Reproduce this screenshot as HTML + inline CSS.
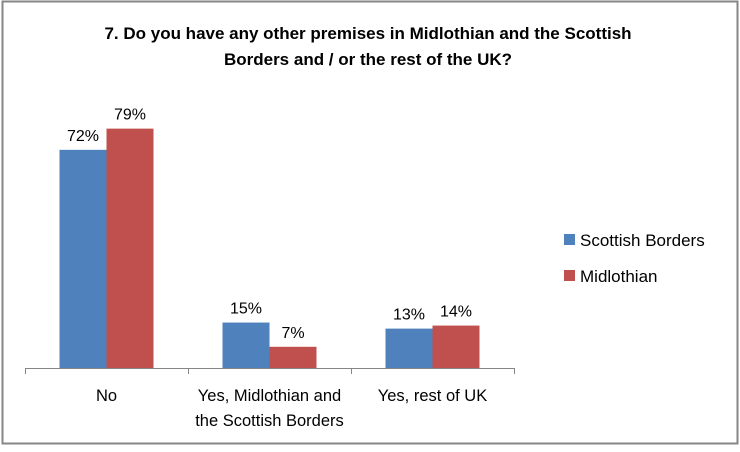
<!DOCTYPE html>
<html><head><meta charset="utf-8"><style>
body{margin:0;background:#fff;}
svg text{font-family:"Liberation Sans",sans-serif;}
</style></head><body>
<svg width="740" height="447" xmlns="http://www.w3.org/2000/svg">
<rect x="2.5" y="1.5" width="735" height="442" fill="#fff" stroke="#868686" stroke-width="2"/>
<text x="368" y="39" text-anchor="middle" font-size="17" font-weight="bold" fill="#000">7.  Do you have any other premises in Midlothian and the Scottish</text>
<text x="368" y="65" text-anchor="middle" font-size="17" font-weight="bold" fill="#000">Borders and / or the rest of the UK?</text>
<g id="plot"></g>
<rect x="564" y="234" width="11" height="11" fill="#4f81bd"/>
<text x="580" y="246" font-size="17" fill="#000">Scottish Borders</text>
<rect x="564" y="270" width="11" height="11" fill="#c0504d"/>
<text x="580" y="282" font-size="17" fill="#000">Midlothian</text>
</svg>
<script>
const categories=[["No"],["Yes, Midlothian and","the Scottish Borders"],["Yes, rest of UK"]];
const scottishBorders=[72,15,13];
const midlothian=[79,7,14];
const seriesNames=["scottish-borders","midlothian"];
const colors=["#4f81bd","#c0504d"];
const NS="http://www.w3.org/2000/svg";
const g=document.getElementById("plot");
const x0=25,x1=514,base=368,scale=3.03;
const cw=(x1-x0)/categories.length,bw=47;
const y=v=>base-v*scale;
function mk(t,a){const e=document.createElementNS(NS,t);for(const k in a)e.setAttribute(k,a[k]);g.appendChild(e);return e;}
[scottishBorders,midlothian].forEach((s,si)=>{
 s.forEach((v,i)=>{
  const cx=x0+cw*i+cw/2, bx=cx-bw+si*bw;
  const r=mk("rect",{x:bx,y:y(v),width:bw,height:v*scale,fill:colors[si]});
  
  
  const t=mk("text",{x:bx+bw/2,y:y(v)-9,"text-anchor":"middle","font-size":"16",fill:"#000"});
  t.textContent=v+"%";
  
  
 });
});
const ax=mk("line",{x1:x0,x2:x1,y1:base+0.5,y2:base+0.5,stroke:"#868686","stroke-width":1});


for(let i=0;i<=categories.length;i++){
 const tx=Math.round(x0+cw*i)+0.5;
 const tk=mk("line",{x1:tx,x2:tx,y1:base,y2:base+6,stroke:"#868686"});
 
 
}
categories.forEach((c,i)=>{
 c.forEach((ln,j)=>{
  const t=mk("text",{x:x0+cw*i+cw/2,y:401+j*25,"text-anchor":"middle","font-size":"16.5",fill:"#000"});
  t.textContent=ln;
  
  
 });
});
</script>
</body></html>
